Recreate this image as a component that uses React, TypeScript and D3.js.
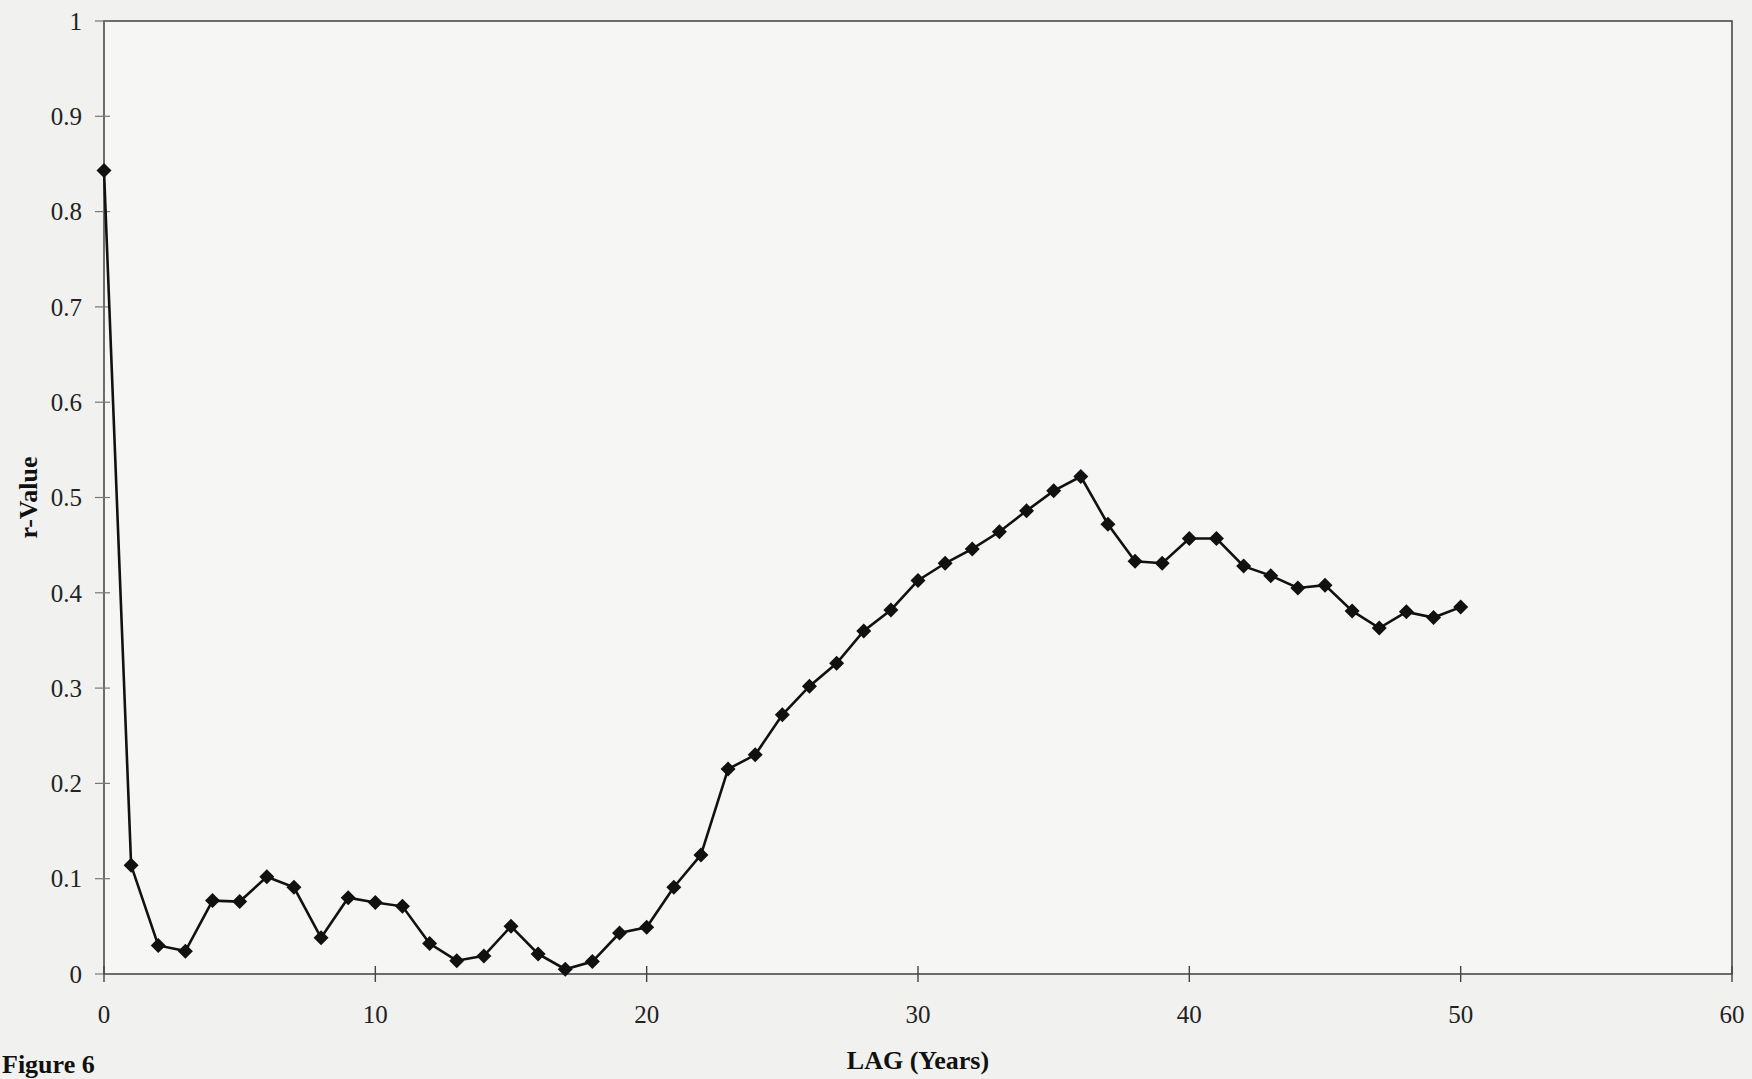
import React from "react";
import * as d3 from "d3";

// lag in years, 0..50
const lags = [
  0, 1, 2, 3, 4, 5, 6, 7, 8, 9, 10, 11, 12, 13, 14, 15, 16, 17, 18, 19, 20,
  21, 22, 23, 24, 25, 26, 27, 28, 29, 30, 31, 32, 33, 34, 35, 36, 37, 38, 39,
  40, 41, 42, 43, 44, 45, 46, 47, 48, 49, 50,
];

// correlation r-value at each lag
const rValues = [
  0.843, 0.114, 0.03, 0.024, 0.077, 0.076, 0.102, 0.091, 0.038, 0.08, 0.075,
  0.071, 0.032, 0.014, 0.019, 0.05, 0.021, 0.005, 0.013, 0.043, 0.049, 0.091,
  0.125, 0.215, 0.23, 0.272, 0.302, 0.326, 0.36, 0.382, 0.413, 0.431, 0.446,
  0.464, 0.486, 0.507, 0.522, 0.472, 0.433, 0.431, 0.457, 0.457, 0.428, 0.418,
  0.405, 0.408, 0.381, 0.363, 0.38, 0.374, 0.385,
];

const xTicks = [0, 10, 20, 30, 40, 50, 60];
const yTicks = [0, 0.1, 0.2, 0.3, 0.4, 0.5, 0.6, 0.7, 0.8, 0.9, 1];
const yTickLabels = ["0", "0.1", "0.2", "0.3", "0.4", "0.5", "0.6", "0.7", "0.8", "0.9", "1"];

const W = 1752;
const H = 1079;
const margin = { left: 104, right: 20, top: 21, bottom: 105 };

export default function App() {
  const x = d3
    .scaleLinear()
    .domain([0, 60])
    .range([margin.left, W - margin.right]);
  const y = d3
    .scaleLinear()
    .domain([0, 1])
    .range([H - margin.bottom, margin.top]);

  const data = lags.map((l, i) => ({ lag: l, r: rValues[i] }));
  const line = d3
    .line<{ lag: number; r: number }>()
    .x((d) => x(d.lag))
    .y((d) => y(d.r));

  const font = "'Liberation Serif', 'DejaVu Serif', serif";
  const x0 = x(0);
  const x1 = x(60);
  const y0 = y(0);
  const y1 = y(1);
  const dm = 7.5; // half size of diamond marker

  return (
    <svg
      width={W}
      height={H}
      style={{ position: "absolute", left: 0, top: 0, background: "#f1f1ef" }}
      fontFamily={font}
    >
      <rect x={0} y={0} width={W} height={H} fill="#f1f1ef" />
      <rect x={x0} y={y1} width={x1 - x0} height={y0 - y1} fill="#f6f6f5" />

      {/* frame */}
      <rect
        x={x0}
        y={y1}
        width={x1 - x0}
        height={y0 - y1}
        fill="none"
        stroke="#4a4a4a"
        strokeWidth={1.6}
      />

      {/* y ticks */}
      {yTicks.map((t, i) => (
        <g key={"y" + i}>
          <line x1={x0 - 9} x2={x0 + 6} y1={y(t)} y2={y(t)} stroke="#777" strokeWidth={1.2} />
          <text
            x={82}
            y={y(t)}
            dy="0.35em"
            textAnchor="end"
            fontSize={25}
            fill="#222"
          >
            {yTickLabels[i]}
          </text>
        </g>
      ))}

      {/* x ticks */}
      {xTicks.map((t) => (
        <g key={"x" + t}>
          <line x1={x(t)} x2={x(t)} y1={y0 - 8} y2={y0 + 8} stroke="#444" strokeWidth={1.4} />
          <text x={x(t)} y={1023} textAnchor="middle" fontSize={25} fill="#222">
            {t}
          </text>
        </g>
      ))}

      {/* axis titles */}
      <text
        x={(x0 + x1) / 2}
        y={1069}
        textAnchor="middle"
        fontSize={26}
        fontWeight="bold"
        fill="#111"
      >
        LAG (Years)
      </text>
      <text
        transform={`translate(37, ${(y0 + y1) / 2}) rotate(-90)`}
        textAnchor="middle"
        fontSize={26}
        fontWeight="bold"
        fill="#111"
      >
        r-Value
      </text>
      <text x={2} y={1073} fontSize={26} fontWeight="bold" fill="#111">
        Figure 6
      </text>

      {/* series */}
      <path d={line(data) || ""} fill="none" stroke="#111" strokeWidth={2.6} />
      {data.map((d) => (
        <path
          key={"m" + d.lag}
          d={`M${x(d.lag)},${y(d.r) - dm} L${x(d.lag) + dm},${y(d.r)} L${x(d.lag)},${
            y(d.r) + dm
          } L${x(d.lag) - dm},${y(d.r)} Z`}
          fill="#111"
        />
      ))}
    </svg>
  );
}
